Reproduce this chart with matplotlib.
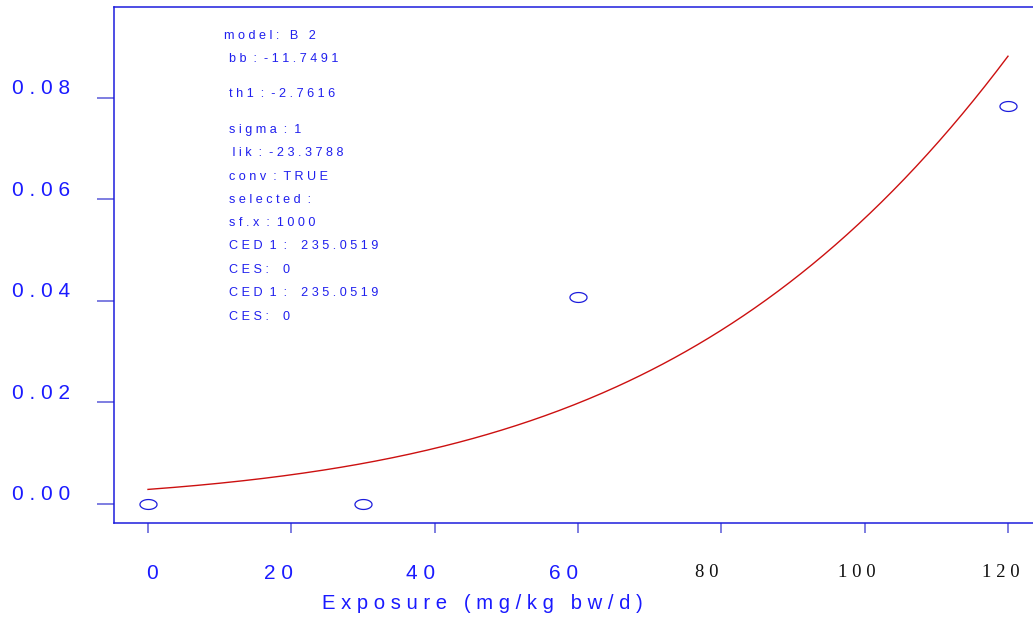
import math
import numpy as np
import matplotlib.pyplot as plt
from matplotlib.transforms import ScaledTranslation

# observed response per dose group
dose = [0, 30, 60, 120]
resp = [0.0, 0.0, 0.0408, 0.0785]

# fitted model parameters
th1 = -2.7616
bb = -11.7491
sf_x = 1000

xticks = [0, 20, 40, 60, 80, 100, 120]
xtick_labels = ['0', '2 0', '4 0', '6 0', '8 0', '1 0 0', '1 2 0']
yticks = [0.0, 0.02, 0.04, 0.06, 0.08]
ytick_labels = ['0 . 0 0', '0 . 0 2', '0 . 0 4', '0 . 0 6', '0 . 0 8']

info_lines = ['m o d e l :   B   2',
              'b b  :  - 1 1 . 7 4 9 1',
              't h 1  :  - 2 . 7 6 1 6',
              's i g m a  :  1',
              ' l i k  :  - 2 3 . 3 7 8 8',
              'c o n v  :  T R U E',
              's e l e c t e d  :',
              's f . x  :  1 0 0 0',
              'C E D  1  :    2 3 5 . 0 5 1 9',
              'C E S :    0',
              'C E D  1  :    2 3 5 . 0 5 1 9',
              'C E S :    0']
info_x = [224, 229, 229, 229, 229, 229, 229, 229, 229, 229, 229, 229]
info_y = [36, 59, 94, 130, 153, 177, 200, 223, 246, 270, 293, 317]

W, H = 1033, 620
blue = '#1c1cdc'
tick_blue = '#5a5ad8'

fig = plt.figure(figsize=(W / 100, H / 100), dpi=100)
ax = fig.add_axes([114 / W, (H - 523) / H, 1 - 114 / W, (523 - 7) / H])

# model curve: probit in scaled dose
xs = np.linspace(0, 120, 300)
ys = np.array([0.5 * (1 + math.erf((th1 - bb * x / sf_x) / math.sqrt(2))) for x in xs])
ax.plot(xs, ys, color='#cc1010', lw=1.0)

t = np.linspace(0, 2 * np.pi, 60)
ellipse = list(zip(np.cos(t), 0.58 * np.sin(t)))
ax.plot(dose, resp, ls='none', marker=ellipse, markersize=12.3,
        markerfacecolor='none', markeredgecolor=blue, markeredgewidth=0.9)

ax.set_xlim(-4.744, 123.49)
ax.set_ylim(-0.003744, 0.09793)

for side in ['left', 'top', 'bottom']:
    ax.spines[side].set_color(blue)
    ax.spines[side].set_linewidth(1.1)
ax.spines['right'].set_visible(False)

ax.set_yticks(yticks)
ax.set_yticklabels(ytick_labels, fontsize=15, color='#1a1aff', family='Liberation Sans')
ax.tick_params(axis='y', length=12.5, width=1.1, color=tick_blue, pad=19)
for lab in ax.get_yticklabels():
    lab.set_transform(lab.get_transform() + ScaledTranslation(0, 0.11, fig.dpi_scale_trans))

ax.set_xticks(xticks)
ax.set_xticklabels(xtick_labels)
ax.tick_params(axis='x', length=7.5, width=1.1, color=tick_blue, pad=22)
x_shift = [4, -13, -14, -14, -15, -8, -7]
for i, lab in enumerate(ax.get_xticklabels()):
    if xticks[i] >= 80:
        lab.set_family('Liberation Serif')
        lab.set_fontsize(13.5)
        lab.set_color('#111111')
    else:
        lab.set_family('Liberation Sans')
        lab.set_fontsize(15)
        lab.set_color('#1a1aff')
    lab.set_transform(lab.get_transform() + ScaledTranslation(x_shift[i] / 100, 0, fig.dpi_scale_trans))

ax.set_xlabel('E x p o s u r e   ( m g / k g   b w / d )', fontsize=14.6,
              color='#1a1aff', family='Liberation Sans')
ax.xaxis.set_label_coords((482 - 114) / (W - 114), -(594 - 523) / (523 - 7))

for s, px, py in zip(info_lines, info_x, info_y):
    fig.text(px / W, 1 - py / H, s, fontsize=9.1, color='#2020ee',
             family='Liberation Sans', va='center', ha='left')

fig.savefig('out.png', dpi=100)
